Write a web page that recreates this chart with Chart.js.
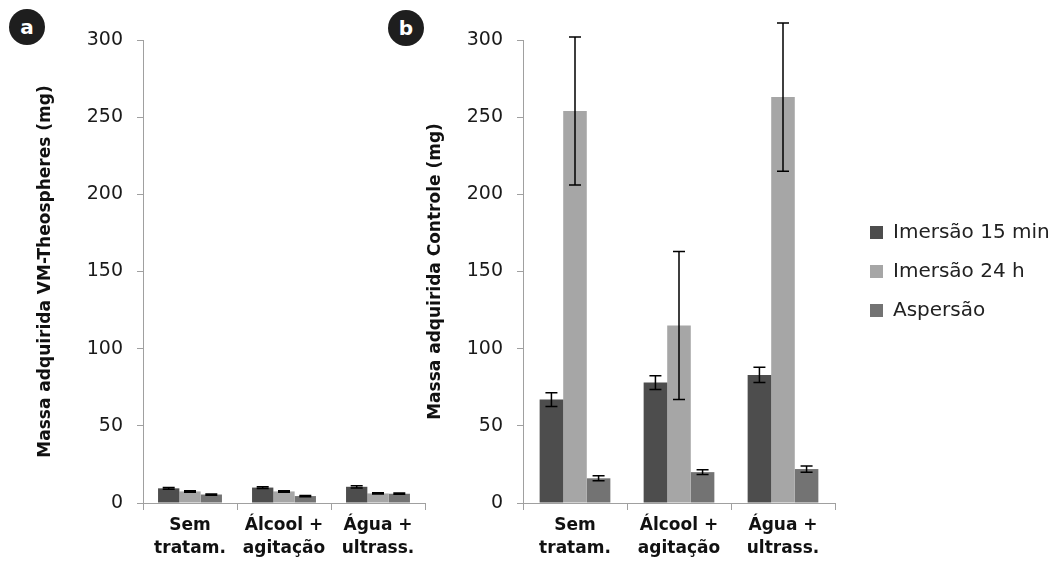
<!DOCTYPE html>
<html>
<head>
<meta charset="utf-8">
<script src="https://cdn.jsdelivr.net/npm/chart.js@4/dist/chart.umd.min.js"></script>
<style>
  html, body { margin: 0; padding: 0; background: #fff; }
  #page { position: relative; width: 1059px; height: 567px; overflow: hidden; }
  .panel { position: absolute; top: 0; height: 567px; }
  .tag {
    position: absolute; width: 36px; height: 36px; border-radius: 50%;
    background: #1e1e1e; color: #fff; font: bold 20px "DejaVu Sans", sans-serif;
    display: flex; align-items: center; justify-content: center; z-index: 2;
  }
</style>
</head>
<body>
<div id="page">
  <div class="panel" style="left:0; width:430px;"><canvas id="chartA"></canvas></div>
  <div class="panel" style="left:400px; width:659px;"><canvas id="chartB"></canvas></div>
  <div class="tag" style="left:9px; top:9px;">a</div>
  <div class="tag" style="left:388px; top:10px;">b</div>
</div>
<script>
// categories and series
const categories = [['Sem', 'tratam.'], ['Álcool +', 'agitação'], ['Água +', 'ultrass.']];
const seriesNames = ['Imersão 15 min', 'Imersão 24 h', 'Aspersão'];
const seriesColors = ['#4d4d4d', '#a6a6a6', '#737373'];
const yMax = 300;
const yStep = 50;

// panel a: VM-Theospheres
const vmImersao15 = [9.5, 10, 10.5];
const vmImersao24 = [7.5, 7.5, 6.2];
const vmAspersao = [5.5, 4.5, 6];
const vmErr15 = [0.6, 0.6, 0.7];
const vmErr24 = [0.5, 0.5, 0.4];
const vmErrAsp = [0.4, 0.4, 0.4];

// panel b: Controle
const ctImersao15 = [67, 78, 83];
const ctImersao24 = [254, 115, 263];
const ctAspersao = [16, 20, 22];
const ctErr15 = [4.5, 4.5, 5];
const ctErr24 = [48, 48, 48];
const ctErrAsp = [1.6, 1.6, 2];

Chart.defaults.font.family = '"DejaVu Sans", sans-serif';
Chart.defaults.color = '#1a1a1a';

// draws whiskers from each dataset's err array
const errorBars = {
    id: 'errorBars',
    afterDatasetsDraw(chart) {
        const ctx = chart.ctx;
        const yScale = chart.scales.y;
        ctx.save();
        ctx.strokeStyle = '#000';
        chart.data.datasets.forEach((ds, i) => {
            const meta = chart.getDatasetMeta(i);
            meta.data.forEach((bar, j) => {
                const v = ds.data[j], e = ds.err[j];
                const yTop = yScale.getPixelForValue(v + e);
                const yBot = yScale.getPixelForValue(v - e);
                ctx.lineWidth = 1.5;
                ctx.beginPath();
                ctx.moveTo(bar.x, yTop); ctx.lineTo(bar.x, yBot);
                ctx.moveTo(bar.x - 6, yTop); ctx.lineTo(bar.x + 6, yTop);
                ctx.moveTo(bar.x - 6, yBot); ctx.lineTo(bar.x + 6, yBot);
                ctx.stroke();
            });
        });
        ctx.restore();
    }
};

// legend gets a fixed width and sits a bit off the plot
const legendBox = {
    id: 'legendBox',
    beforeLayout(chart) {
        const lg = chart.legend;
        if (!lg || lg._fixed) return;
        const fit = lg.fit;
        lg.fit = function () { fit.call(this); this.width = 224; };
        lg._fixed = true;
    },
    afterLayout(chart) {
        const lg = chart.legend;
        lg.left += 16;
        lg.right += 16;
    }
};

const makeDatasets = (vals, errs) => vals.map((d, i) => ({
    label: seriesNames[i],
    data: d,
    err: errs[i],
    backgroundColor: seriesColors[i],
    borderWidth: 0,
    categoryPercentage: 0.68,
    barPercentage: 1
}));

const makeOptions = (title, yWidth, titleTop, showLegend, padRight) => ({
    responsive: true,
    maintainAspectRatio: false,
    animation: false,
    layout: { padding: { top: 40, right: padRight, left: 0, bottom: 0 } },
    plugins: {
        legend: {
            display: showLegend,
            position: 'right',
            fullSize: false,
            labels: {
                font: { size: 20 },
                color: '#222',
                boxWidth: 13,
                boxHeight: 13,
                padding: 19
            }
        },
        tooltip: { enabled: false }
    },
    scales: {
        x: {
            afterFit: s => { s.height = 64; },
            border: { color: '#a0a0a0' },
            grid: { drawOnChartArea: false, offset: true, tickLength: 7, color: '#a0a0a0' },
            ticks: { font: { size: 17, weight: 'bold', lineHeight: 1.3 }, color: '#111', padding: 5, maxRotation: 0 }
        },
        y: {
            min: 0,
            max: yMax,
            afterFit: s => { s.width = yWidth; },
            border: { color: '#a0a0a0' },
            grid: { drawOnChartArea: false, tickLength: 6, color: '#a0a0a0' },
            ticks: { stepSize: yStep, font: { size: 19 }, color: '#1a1a1a', padding: 14 },
            title: {
                display: true,
                text: title,
                font: { size: 17, weight: 'bold' },
                color: '#111',
                padding: { top: titleTop, bottom: 0 }
            }
        }
    }
});

new Chart(document.getElementById('chartA'), {
    type: 'bar',
    data: {
        labels: categories,
        datasets: makeDatasets([vmImersao15, vmImersao24, vmAspersao], [vmErr15, vmErr24, vmErrAsp])
    },
    options: makeOptions('Massa adquirida VM-Theospheres (mg)', 143, 35, false, 5),
    plugins: [errorBars]
});

new Chart(document.getElementById('chartB'), {
    type: 'bar',
    data: {
        labels: categories,
        datasets: makeDatasets([ctImersao15, ctImersao24, ctAspersao], [ctErr15, ctErr24, ctErrAsp])
    },
    options: makeOptions('Massa adquirida Controle (mg)', 123, 25, true, 0),
    plugins: [errorBars, legendBox]
});
</script>
</body>
</html>
